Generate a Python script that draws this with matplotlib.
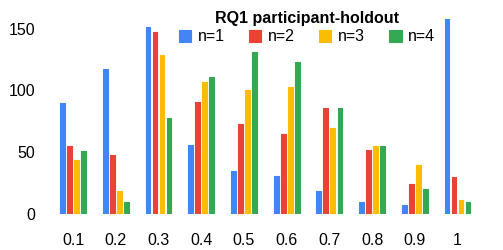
import matplotlib
matplotlib.use("Agg")
import matplotlib.pyplot as plt
import numpy as np

thresholds = ["0.1", "0.2", "0.3", "0.4", "0.5", "0.6", "0.7", "0.8", "0.9", "1"]
series_names = ["n=1", "n=2", "n=3", "n=4"]
n1 = [90, 117, 151, 56, 35, 31, 19, 10, 7, 158]
n2 = [55, 48, 147, 91, 73, 65, 86, 52, 24, 30]
n3 = [44, 19, 129, 107, 100, 103, 70, 55, 40, 11]
n4 = [51, 10, 78, 111, 131, 123, 86, 55, 20, 10]
colors = ["#4285F4", "#EA4335", "#FBBC04", "#34A853"]

plt.rcParams['font.family'] = ['Liberation Sans', 'DejaVu Sans']

fig = plt.figure(figsize=(5.03, 2.5), dpi=100)
ax = fig.add_axes([0.103, 0.144, 0.849, 0.84])

x = np.arange(len(thresholds))
width = 0.112
step = 0.164
for i, (vals, name, col) in enumerate(zip([n1, n2, n3, n4], series_names, colors)):
    ax.bar(x + (i - 1.5) * step, vals, width, color=col, label=name,
           edgecolor=col, linewidth=0.8, joinstyle='round')

ax.set_xlim(-0.5, len(thresholds) - 0.5)
ax.set_ylim(0, 170)
ax.set_yticks([0, 50, 100, 150])
ax.set_xticks(x)
ax.set_xticklabels(thresholds)
for s in ax.spines.values():
    s.set_visible(False)
ax.tick_params(axis='x', length=0, pad=14, labelsize=11.5)
ax.tick_params(axis='y', length=0, pad=12, labelsize=11.5)

# legend with title on top of the bars
leg = fig.legend(loc='upper center', bbox_to_anchor=(0.61, 1.0), ncol=4,
                 title="RQ1 participant-holdout", frameon=False, fontsize=11.5,
                 handlelength=0.8, handleheight=0.8, handletextpad=0.4,
                 columnspacing=1.5, borderpad=0.2, labelspacing=0.2)
leg.get_title().set_fontweight('bold')
leg.get_title().set_fontsize(11.5)

fig.savefig("out.png", dpi=100)
